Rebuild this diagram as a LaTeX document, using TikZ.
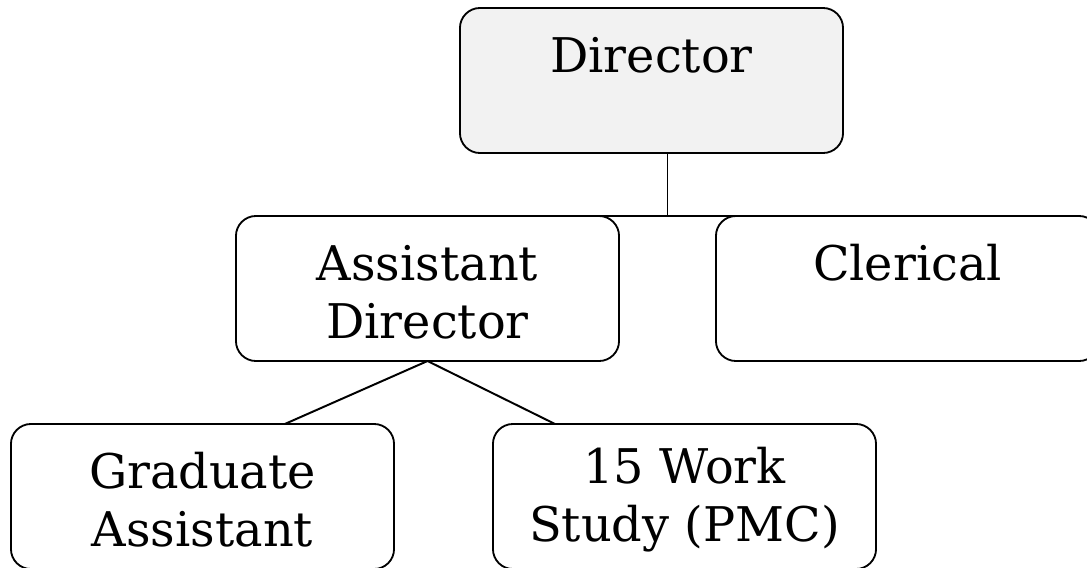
\documentclass[tikz,border=0pt]{standalone}
\usepackage{fontspec}
\setmainfont{DejaVu Serif}
\usetikzlibrary{calc}
\newcommand\kop{\rule{0pt}{30pt}}

\begin{document}
\begin{tikzpicture}[x=0.025cm, y=-0.025cm,
    functie/.style={draw, line width=1.3pt, rounded corners=0.5cm,
      minimum width=9.575cm, minimum height=3.625cm, align=center,
      outer sep=0pt, font=\fontsize{34}{41}\selectfont},
    lijn/.style={line width=1.4pt}]

  \useasboundingbox (0,0) rectangle (1087,567);

  % Functies
  \node[functie, fill=gray!10] (DIR) at (651.5,80.5) {\kop Director\\ \mbox{}};
  \node[functie] (AD) at (427.5,288.5) {\kop Assistant\\Director};
  \node[functie] (CL) at (907.5,288.5) {\kop Clerical\\ \mbox{}};
  \node[functie] (GA) at (202.5,496.5) {\kop Graduate\\Assistant};
  \node[functie] (WS) at (684.5,496.5) {\kop 15 Work\\Study (PMC)};

  % Aftakpunten
  \coordinate (tak) at ($(AD.north east)!0.5!(CL.north west)$);
  \coordinate (GAin) at ($(GA.north west)!0.715!(GA.north east)$);
  \coordinate (WSin) at ($(WS.north west)!0.162!(WS.north east)$);

  % Verbindingen
  \draw[lijn] (tak |- DIR.south) -- (tak);
  \draw[lijn] (AD.north) -- (CL.north);
  \draw[lijn] (AD.south) -- (GAin);
  \draw[lijn] (AD.south) -- (WSin);

\end{tikzpicture}
\end{document}
